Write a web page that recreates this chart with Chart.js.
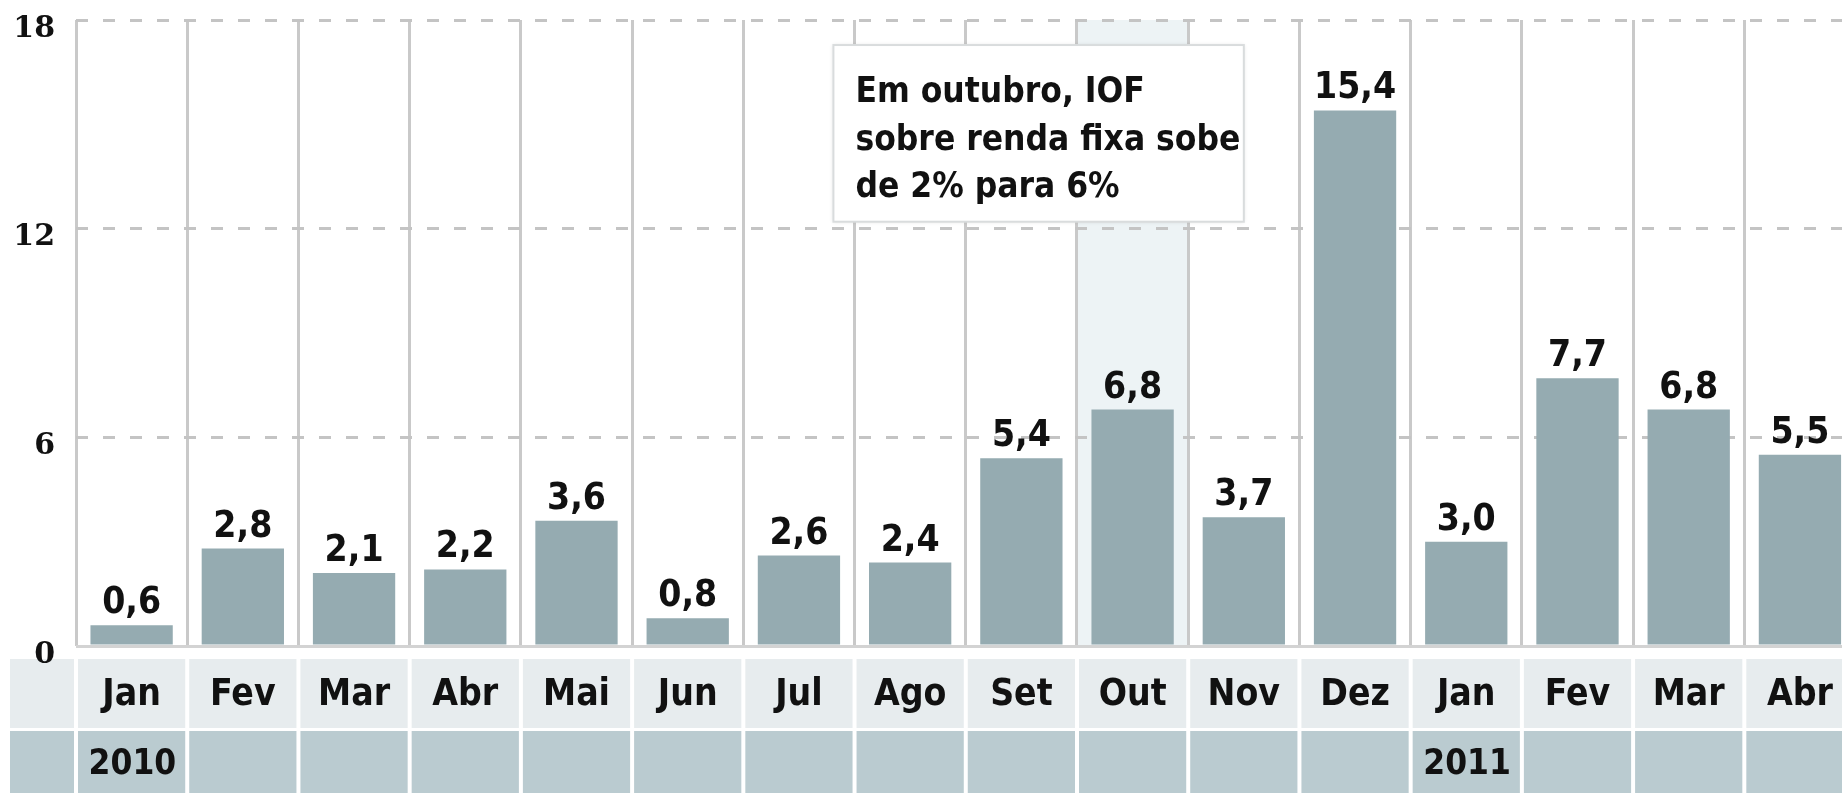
<!DOCTYPE html>
<html>
<head>
<meta charset="utf-8">
<script src="https://cdn.jsdelivr.net/npm/chart.js@4.4.1/dist/chart.umd.min.js"></script>
<style>
  html, body { margin: 0; padding: 0; background: #fff; overflow: hidden; }
  #wrap { position: relative; width: 1860px; height: 793px; }
</style>
</head>
<body>
<div id="wrap"><canvas id="chart"></canvas></div>
<script>
const months = ['Jan', 'Fev', 'Mar', 'Abr', 'Mai', 'Jun', 'Jul', 'Ago', 'Set', 'Out', 'Nov', 'Dez', 'Jan', 'Fev', 'Mar', 'Abr']
const years = ['2010', '', '', '', '', '', '', '', '', '', '', '', '2011', '', '', '']
const values = [0.6, 2.8, 2.1, 2.2, 3.6, 0.8, 2.6, 2.4, 5.4, 6.8, 3.7, 15.4, 3.0, 7.7, 6.8, 5.5]
const yTicks = [0, 6, 12, 18]
const highlightIndex = 9 // Out
const noteLines = ['Em outubro, IOF', 'sobre renda fixa sobe', 'de 2% para 6%']

const SANS = "'DejaVu Sans Condensed', 'DejaVu Sans', sans-serif"
const INK = '#111111'

// light band under the chart: month row + year row, and the highlighted column
const bandPlugin = {
  id: 'band',
  beforeDraw(chart) {
    const { ctx, chartArea, scales } = chart
    const x = scales.x
    const yr = scales.year
    const half = (x.getPixelForValue(1) - x.getPixelForValue(0)) / 2
    ctx.save()

    const hx = x.getPixelForValue(highlightIndex)
    ctx.fillStyle = '#edf3f5'
    ctx.fillRect(hx - half, chartArea.top, half * 2, chartArea.bottom - chartArea.top)

    const mTop = x.top + 13, mBot = x.bottom
    const yTop = yr.top + 3, yBot = yr.bottom
    ctx.fillStyle = '#e7ecee'
    ctx.fillRect(10, mTop, chartArea.left - 12, mBot - mTop)
    ctx.fillStyle = '#bacbd0'
    ctx.fillRect(10, yTop, chartArea.left - 12, yBot - yTop)

    months.forEach((m, i) => {
      const cx = x.getPixelForValue(i)
      ctx.fillStyle = '#e7ecee'
      ctx.fillRect(cx - half + 2, mTop, half * 2 - 4, mBot - mTop)
      ctx.fillStyle = '#bacbd0'
      ctx.fillRect(cx - half + 2, yTop, half * 2 - 4, yBot - yTop)
    })
    ctx.restore()
  }
}

// value labels above bars, with decimal comma
const valueLabels = {
  id: 'valueLabels',
  afterDatasetsDraw(chart) {
    const { ctx } = chart
    const meta = chart.getDatasetMeta(0)
    ctx.save()
    ctx.font = 'bold 37px ' + SANS
    ctx.fillStyle = INK
    ctx.textAlign = 'center'
    ctx.textBaseline = 'alphabetic'
    meta.data.forEach((bar, i) => {
      ctx.fillText(values[i].toFixed(1).replace('.', ','), bar.x, bar.y - 12)
    })
    ctx.restore()
  }
}

// note box over Jul..Nov
const noteBox = {
  id: 'noteBox',
  afterDatasetsDraw(chart) {
    const { ctx, scales: { x, y } } = chart
    const left = x.getPixelForValue(6.31)
    const right = x.getPixelForValue(10.0)
    const top = y.getPixelForValue(17.28)
    const bottom = y.getPixelForValue(12.2)
    ctx.save()
    ctx.shadowColor = 'rgba(0,0,0,0.12)'
    ctx.shadowBlur = 4
    ctx.fillStyle = '#ffffff'
    ctx.fillRect(left, top, right - left, bottom - top)
    ctx.shadowColor = 'transparent'
    ctx.strokeStyle = '#d9dcdd'
    ctx.lineWidth = 2
    ctx.strokeRect(left, top, right - left, bottom - top)
    ctx.font = 'bold 35px ' + SANS
    ctx.fillStyle = INK
    ctx.textAlign = 'left'
    ctx.textBaseline = 'alphabetic'
    noteLines.forEach((line, i) => {
      ctx.fillText(line, left + 22, top + 57 + i * 47.5)
    })
    ctx.restore()
  }
}

new Chart(document.getElementById('chart'), {
  type: 'bar',
  data: {
    labels: months,
    datasets: [{
      data: values,
      backgroundColor: '#95abb1',
      borderWidth: 0,
      barPercentage: 0.74,
      categoryPercentage: 1.0
    }]
  },
  options: {
    responsive: true,
    maintainAspectRatio: false,
    animation: false,
    events: [],
    layout: {
      padding: { top: 20, right: 2, bottom: 0, left: 15 }
    },
    plugins: {
      legend: { display: false },
      tooltip: { enabled: false }
    },
    scales: {
      x: {
        offset: true,
        weight: 0,
        afterFit: (scale) => { scale.height = 82 },
        grid: {
          offset: true,
          color: '#c9c9c9',
          lineWidth: 3,
          drawTicks: false
        },
        border: { display: false },
        ticks: {
          autoSkip: false,
          maxRotation: 0,
          padding: 27,
          color: INK,
          font: { family: SANS, size: 37, weight: 'bold' }
        }
      },
      year: {
        axis: 'x',
        type: 'category',
        labels: years,
        position: 'bottom',
        offset: true,
        weight: 1,
        afterFit: (scale) => { scale.height = 65 },
        grid: { display: false, drawTicks: false },
        border: { display: false },
        ticks: {
          autoSkip: false,
          maxRotation: 0,
          align: 'start',
          labelOffset: -43,
          padding: 16,
          color: INK,
          font: { family: SANS, size: 35, weight: 'bold' }
        }
      },
      y: {
        min: 0,
        max: 18,
        afterFit: (scale) => {
          scale.width = 61
          // tick padding is horizontal here; don't let it push the plot down
          scale.paddingTop = 10
          scale.paddingBottom = 10
        },
        afterBuildTicks: (scale) => { scale.ticks = yTicks.map(v => ({ value: v })) },
        grid: {
          color: (ctx) => ctx.tick && ctx.tick.value === 0 ? '#d3d3d3' : '#c4c4c4',
          lineWidth: 3,
          drawTicks: false
        },
        border: {
          display: false,
          dash: (ctx) => ctx.tick && ctx.tick.value === 0 ? [] : [12, 15]
        },
        ticks: {
          crossAlign: 'near',
          padding: 21,
          labelOffset: 9,
          color: INK,
          font: { family: "'DejaVu Serif', serif", size: 30, weight: 'bold' }
        }
      }
    }
  },
  plugins: [bandPlugin, valueLabels, noteBox]
})
</script>
</body>
</html>
